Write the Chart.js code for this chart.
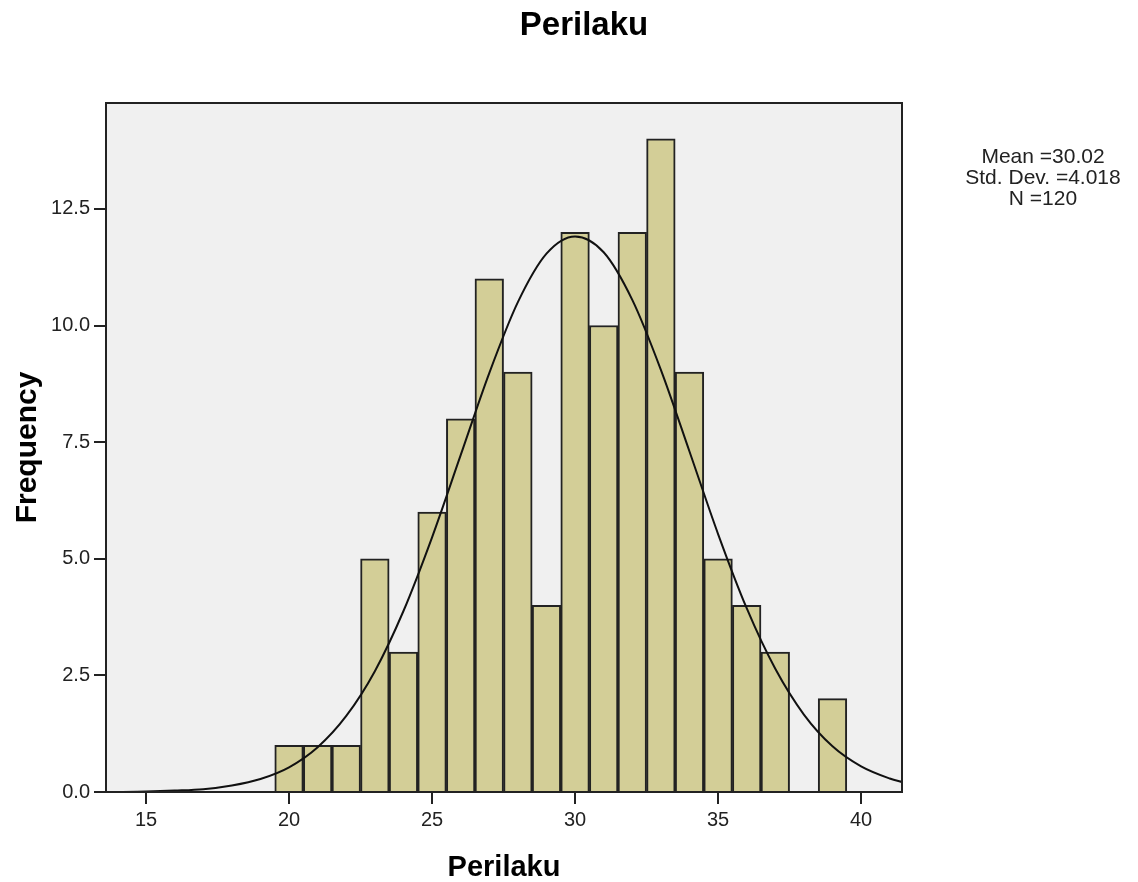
<!DOCTYPE html>
<html>
<head>
<meta charset="utf-8">
<script src="https://cdn.jsdelivr.net/npm/chart.js@4.4.1/dist/chart.umd.min.js"></script>
<style>
  body { margin: 0; background: #fff; }
  #wrap { width: 1138px; height: 882px; }
</style>
</head>
<body>
<div id="wrap"><canvas id="hist" width="1138" height="882"></canvas></div>
<script>
// histogram bins (value = bin center) and counts
var binCenters = [20, 21, 22, 23, 24, 25, 26, 27, 28, 29, 30, 31, 32, 33, 34, 35, 36, 37, 38, 39];
var frequencies = [1, 1, 1, 5, 3, 6, 8, 11, 9, 4, 12, 10, 12, 14, 9, 5, 4, 3, 0, 2];

// normal curve
var curveX = [13.5, 14, 15, 16, 17, 18, 19, 20, 21, 22, 23, 24, 25, 26, 27, 28, 29, 30, 31, 32, 33, 34, 35, 36, 37, 38, 39, 40, 41, 41.5];
var curveY = [0.00, 0.00, 0.01, 0.03, 0.06, 0.14, 0.28, 0.53, 0.96, 1.63, 2.59, 3.88, 5.46, 7.22, 8.98, 10.50, 11.54, 11.91, 11.57, 10.55, 9.05, 7.30, 5.53, 3.94, 2.64, 1.66, 0.98, 0.55, 0.29, 0.20];

var xTicks = [15, 20, 25, 30, 35, 40];
var statLines = ['Mean =30.02', 'Std. Dev. =4.018', 'N =120'];

var FONT = "'Liberation Sans', Arial, sans-serif";

var frame = {
    id: 'frame',
    beforeDraw: function(chart) {
        var a = chart.chartArea, c = chart.ctx;
        c.save();
        c.fillStyle = '#f0f0f0';
        c.fillRect(a.left, a.top, a.right - a.left, a.bottom - a.top);
        c.restore();
    },
    afterDraw: function(chart) {
        var a = chart.chartArea, c = chart.ctx;
        c.save();
        c.strokeStyle = '#222';
        c.lineWidth = 2;
        c.strokeRect(a.left, a.top, a.right - a.left, a.bottom - a.top);

        c.fillStyle = '#000';
        c.textAlign = 'center';
        c.textBaseline = 'middle';
        c.font = 'bold 33px ' + FONT;
        c.fillText('Perilaku', 584, 26);

        c.fillStyle = '#222';
        c.font = '21px ' + FONT;
        for (var i = 0; i < statLines.length; i++) {
            c.fillText(statLines[i], 1043, 157 + i * 21);
        }
        c.restore();
    }
};

var points = binCenters.map(function(v, i) { return {x: v, y: frequencies[i]}; });
var curve = curveX.map(function(v, i) { return {x: v, y: curveY[i]}; });

new Chart(document.getElementById('hist'), {
    type: 'bar',
    data: {
        datasets: [{
            type: 'line',
            data: curve,
            borderColor: '#111',
            borderWidth: 2,
            pointRadius: 0,
            cubicInterpolationMode: 'monotone',
            fill: false,
            order: 0
        }, {
            data: points,
            backgroundColor: '#d3ce97',
            borderColor: '#222',
            borderWidth: 2,
            barPercentage: 1,
            categoryPercentage: 1,
            order: 1
        }]
    },
    options: {
        responsive: false,
        animation: false,
        layout: { padding: { left: 0, right: 236, top: 103, bottom: 0 } },
        plugins: {
            legend: { display: false },
            tooltip: { enabled: false }
        },
        scales: {
            x: {
                type: 'linear',
                offset: false,
                min: 13.6,
                max: 41.43,
                afterFit: function(s) { s.height = 90; },
                afterBuildTicks: function(s) { s.ticks = xTicks.map(function(v) { return {value: v}; }); },
                ticks: { padding: 4, color: '#222', font: { family: FONT, size: 20 } },
                grid: { offset: false, drawOnChartArea: false, tickLength: 12, color: '#222', lineWidth: 2 },
                border: { display: false },
                title: { display: true, text: 'Perilaku', color: '#000', padding: { top: 0, bottom: 0 },
                         font: { family: FONT, size: 29, weight: 'bold', lineHeight: 1 } }
            },
            y: {
                min: 0,
                max: 14.77,
                afterFit: function(s) { s.width = 106; },
                ticks: { stepSize: 2.5, includeBounds: false, padding: 4, color: '#222',
                         font: { family: FONT, size: 20 },
                         callback: function(v) { return v.toFixed(1); } },
                grid: { drawOnChartArea: false, tickLength: 12, color: '#222', lineWidth: 2 },
                border: { display: false },
                title: { display: true, text: 'Frequency', color: '#000', padding: { top: 10, bottom: 0 },
                         font: { family: FONT, size: 30, weight: 'bold' } }
            }
        }
    },
    plugins: [frame]
});
</script>
</body>
</html>
